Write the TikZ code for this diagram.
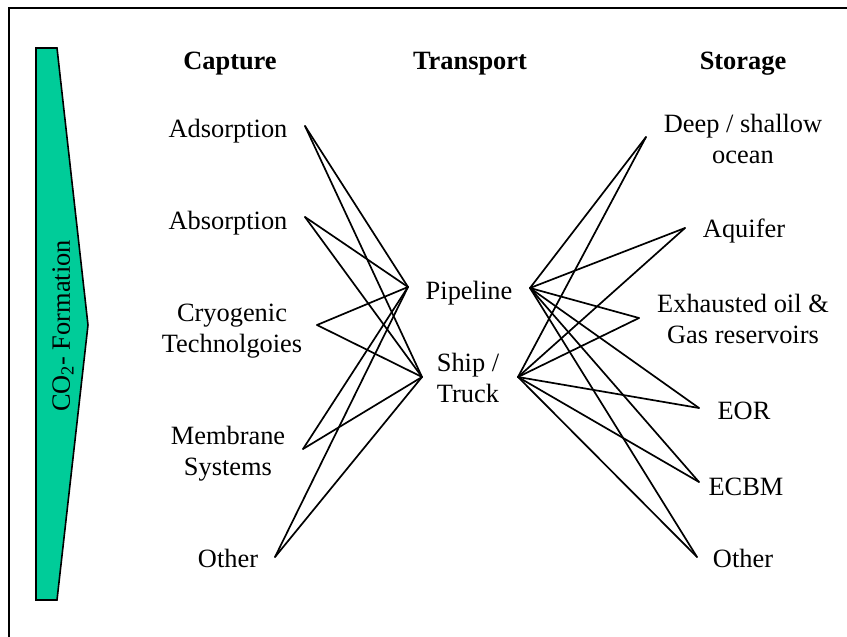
\documentclass[tikz,border=0pt]{standalone}
\usepackage{fontspec}
\setmainfont{Liberation Serif}
\definecolor{formgreen}{RGB}{0,204,153}
\begin{document}
\begin{tikzpicture}[x=1pt,y=-1pt,
  lbl/.style={font=\fontsize{26.4}{31}\selectfont, align=center, anchor=base, inner sep=0pt},
  hdr/.style={lbl, font=\fontsize{26.4}{31}\selectfont\bfseries},
  link/.style={line width=1.7pt, line cap=round}]
\useasboundingbox (0,0) rectangle (847,637);
% frame
\draw[line width=1.8pt] (9,637) -- (9,8) -- (847,8);
% formation arrow
\draw[fill=formgreen, line width=1.6pt, line join=miter]
  (36,48) -- (57,48) -- (88,325) -- (57,600) -- (36,600) -- cycle;
\node[font=\fontsize{26.4}{31}\selectfont, rotate=90, inner sep=0pt] (form) at (63,326) {CO\textsubscript{2}- Formation};
% headers
\node[hdr] (hcap) at (230,69) {Capture};
\node[hdr] (htra) at (470,69) {Transport};
\node[hdr] (hsto) at (743,69) {Storage};
% capture labels (base = last line's baseline)
\node[lbl] (adsl) at (228,137) {Adsorption};
\node[lbl] (absl) at (228,229) {Absorption};
\node[lbl] (cryl) at (232,352) {Cryogenic\\Technolgoies};
\node[lbl] (meml) at (228,475) {Membrane\\Systems};
\node[lbl] (othl) at (228,567) {Other};
% transport labels
\node[lbl] (pipl) at (469,299) {Pipeline};
\node[lbl] (shil) at (468,402) {Ship /\\Truck};
% storage labels
\node[lbl] (deel) at (743,163) {Deep / shallow\\ocean};
\node[lbl] (aqul) at (744,237) {Aquifer};
\node[lbl] (exhl) at (743,343) {Exhausted oil \&\\Gas reservoirs};
\node[lbl] (eorl) at (744,419) {EOR};
\node[lbl] (ecbl) at (746,495) {ECBM};
\node[lbl] (otrl) at (743,567) {Other};
% connection points
\coordinate (ads) at (305,126);
\coordinate (abs) at (305,217);
\coordinate (cry) at (317,325);
\coordinate (mem) at (303,449);
\coordinate (oth) at (275,557);
\coordinate (pipL) at (408,287);
\coordinate (shiL) at (422,377);
\coordinate (pipR) at (530,288);
\coordinate (shiR) at (518,377);
\coordinate (dee) at (646,137);
\coordinate (aqu) at (685,228);
\coordinate (exh) at (639,318);
\coordinate (eor) at (699,408);
\coordinate (ecb) at (699,482);
\coordinate (otr) at (697,557);
% connectors
\foreach \c in {ads,abs,cry,mem,oth}{
  \draw[link] (\c) -- (pipL);
  \draw[link] (\c) -- (shiL);
}
\foreach \s in {dee,aqu,exh,eor,ecb,otr}{
  \draw[link] (pipR) -- (\s);
  \draw[link] (shiR) -- (\s);
}
\end{tikzpicture}
\end{document}
